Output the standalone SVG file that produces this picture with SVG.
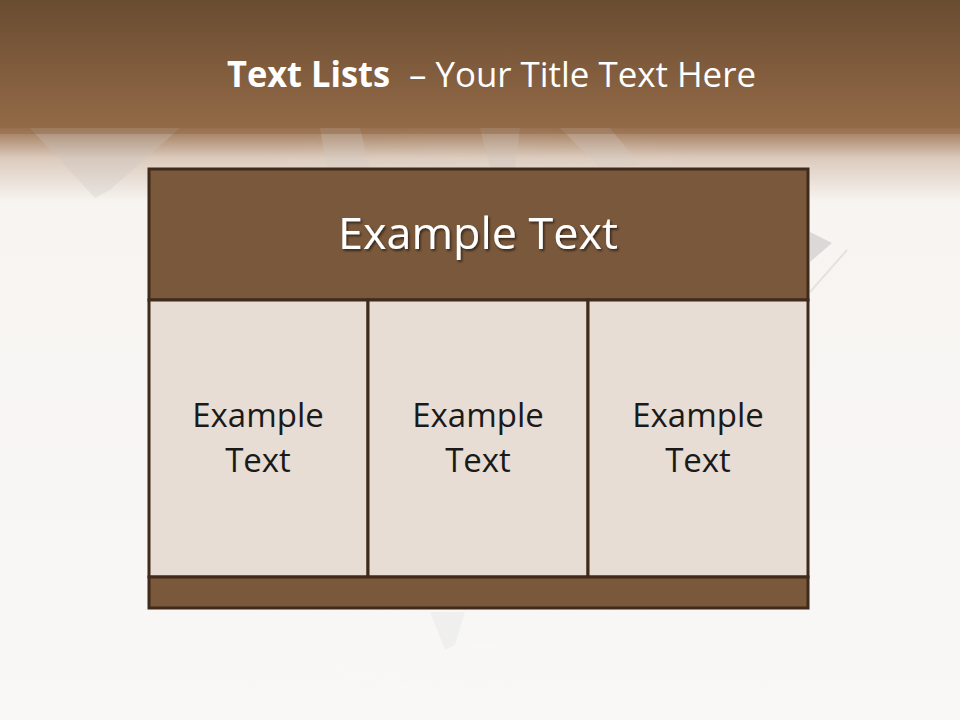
<svg xmlns="http://www.w3.org/2000/svg" width="960" height="720" viewBox="0 0 960 720">
<defs>
<linearGradient id="bg" x1="0" y1="0" x2="0" y2="1">
<stop offset="0" stop-color="#6a4c31"/>
<stop offset="0.17" stop-color="#936a47"/>
<stop offset="0.185" stop-color="#a88466"/>
<stop offset="0.22" stop-color="#dccbbd"/>
<stop offset="0.28" stop-color="#f7f4f1"/>
<stop offset="1" stop-color="#f9f8f7"/>
</linearGradient>
<linearGradient id="top" x1="0" y1="0" x2="0" y2="1">
<stop offset="0" stop-color="#6a4c31"/>
<stop offset="1" stop-color="#936a47"/>
</linearGradient>
<filter id="sh" x="-10%" y="-10%" width="130%" height="140%">
<feDropShadow dx="1.5" dy="2" stdDeviation="1.2" flood-color="#000" flood-opacity="0.55"/>
</filter>
<radialGradient id="glow" cx="0.5" cy="0.5" r="0.5">
<stop offset="0" stop-color="#e6e4e2"/>
<stop offset="1" stop-color="#f9f8f7" stop-opacity="0"/>
</radialGradient>
</defs>
<style>
.t{font-family:"Open Sans","Noto Sans","Liberation Sans",sans-serif;fill:#fff}
.b{font-family:"Open Sans","Noto Sans","Liberation Sans",sans-serif;fill:#1a1a1a;font-size:33px;text-anchor:middle}
.cell{fill:#e8ddd4;stroke:#3f2a1b;stroke-width:3}
.dark{fill:#7a583b;stroke:#3f2a1b;stroke-width:3}
</style>
<rect width="960" height="720" fill="url(#bg)"/>
<g id="background-shapes" opacity="0.28">
<ellipse cx="480" cy="400" rx="380" ry="300" fill="url(#glow)"/>
<polygon points="30,128 180,128 110,190 95,198" fill="#c9c5c2"/>
<polygon points="320,128 360,128 370,170 330,185" fill="#d2cdc9"/>
<polygon points="480,128 520,128 515,170 490,168" fill="#cfc9c4"/>
<polygon points="560,128 610,128 640,165 600,168" fill="#d5cfca"/>
<polygon points="430,612 465,612 455,645 445,650" fill="#dcdcdf"/>
</g>
<g id="side-shapes" opacity="0.6">
<polygon points="810,232 832,243 810,262" fill="#c9c8c8"/>
<line x1="810" y1="292" x2="847" y2="250" stroke="#d8d6d4" stroke-width="2"/>
</g>
<rect width="960" height="128" fill="url(#top)"/>
<rect y="124" width="960" height="10" fill="#936a47" opacity="0.5"/>
<g id="title">
<text class="t" x="227" y="87" font-size="35" font-weight="bold" textLength="163" lengthAdjust="spacingAndGlyphs">Text Lists</text>
<text class="t" x="409" y="87" font-size="35" textLength="347" lengthAdjust="spacingAndGlyphs">– Your Title Text Here</text>
</g>
<g id="header">
<rect class="dark" x="149" y="169" width="659" height="131"/>
<text class="t" x="478" y="249" font-size="44" text-anchor="middle" filter="url(#sh)" textLength="280" lengthAdjust="spacingAndGlyphs">Example Text</text>
</g>
<g id="cell1">
<rect class="cell" x="149" y="300" width="219" height="277"/>
<text class="b" x="258" y="427">Example</text>
<text class="b" x="258" y="472">Text</text>
</g>
<g id="cell2">
<rect class="cell" x="368" y="300" width="220" height="277"/>
<text class="b" x="478" y="427">Example</text>
<text class="b" x="478" y="472">Text</text>
</g>
<g id="cell3">
<rect class="cell" x="588" y="300" width="220" height="277"/>
<text class="b" x="698" y="427">Example</text>
<text class="b" x="698" y="472">Text</text>
</g>
<g id="footer">
<rect class="dark" x="149" y="577" width="659" height="31"/>
</g>
<g id="connectors"/>
</svg>
